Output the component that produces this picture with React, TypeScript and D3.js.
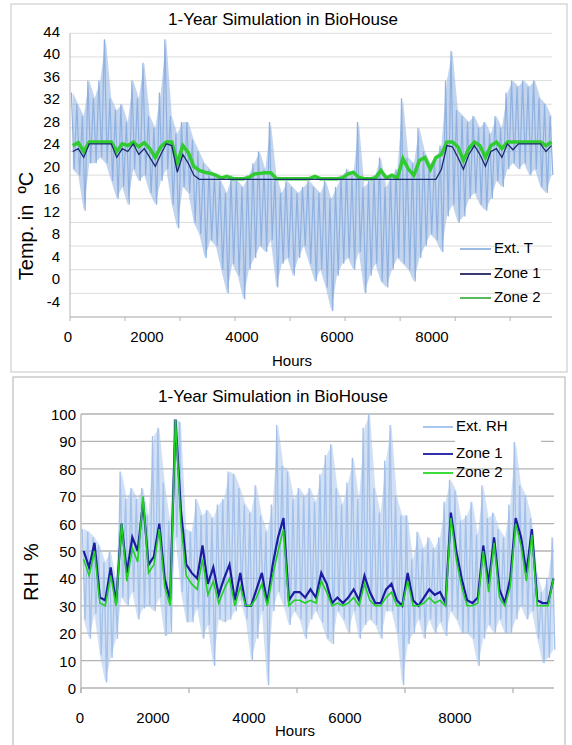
import React from 'react';
import * as d3 from 'd3';

// 100-hour bins over the year (88 bins)
const extTHi = [34, 32, 30, 36, 33, 36, 43, 33, 31, 32, 29, 36, 33, 39, 30, 28, 34, 43, 30, 27, 29, 29,
  26, 24, 22, 21, 20, 19, 17, 20, 19, 18, 20, 22, 24, 21, 29, 20, 17, 19, 18, 17, 18, 19,
  18, 17, 19, 16, 18, 20, 21, 20, 29, 18, 19, 20, 23, 18, 20, 21, 33, 23, 22, 28, 24, 22,
  23, 25, 36, 41, 31, 30, 29, 30, 28, 29, 27, 30, 28, 34, 36, 35, 36, 35, 36, 33, 32, 30];
const extTLo = [21, 20, 14, 22, 22, 23, 22, 19, 16, 18, 15, 21, 19, 20, 17, 15, 19, 21, 15, 11, 18, 17,
  12, 10, 6, 9, 8, 4, 0, 5, 3, -1, 4, 6, 8, 7, 9, 1, 5, 6, 3, 6, 8, 5,
  2, 4, 1, -3, 3, 5, 6, 4, 7, 0, 3, 5, 2, 1, 4, 6, 5, 4, 2, 6, 8, 10,
  9, 7, 13, 15, 12, 13, 16, 17, 15, 14, 16, 19, 18, 21, 22, 21, 22, 20, 21, 18, 17, 20];
const zone1T = [24, 24.5, 23, 25.3, 25.3, 25.3, 25.3, 25.3, 23, 24.5, 24, 25.3, 23.5, 24.5, 23, 21.5, 23.5, 25.3, 25, 20.5, 23.5, 22,
  20, 19.3, 19.3, 19.3, 19.3, 19.3, 19.3, 19.3, 19.3, 19.3, 19.3, 19.3, 19.3, 19.3, 19.3, 19.3, 19.3, 19.3, 19.3, 19.3, 19.3, 19.3,
  19.3, 19.3, 19.3, 19.3, 19.3, 19.3, 19.3, 19.3, 19.3, 19.3, 19.3, 19.3, 19.3, 19.3, 19.3, 19.3, 19.3, 19.3, 19.3, 19.3, 19.3, 19.3,
  19.3, 21, 25, 24.8, 23, 21, 23.5, 25, 23.5, 21.5, 24, 24.5, 23, 25.3, 24.3, 25.3, 25.3, 25.3, 25.3, 25.3, 24, 25];
const zone2T = [25, 25.5, 24, 25.6, 25.6, 25.6, 25.6, 25.6, 24, 25.3, 25, 25.6, 24.8, 25.5, 24.5, 23, 24.8, 25.6, 25.6, 22, 25, 23.8,
  21.5, 20.8, 20.5, 20.3, 20, 19.5, 19.8, 19.4, 19.4, 19.4, 19.6, 20.2, 20.3, 20.4, 20.4, 19.4, 19.4, 19.4, 19.4, 19.4, 19.4, 19.4,
  19.8, 19.4, 19.4, 19.4, 19.4, 19.5, 20.2, 20.5, 19.6, 19.4, 19.4, 19.5, 20.8, 19.5, 20, 19.5, 22.8, 21, 20, 22.5, 23, 21,
  23, 23.5, 25.6, 25.6, 24.8, 22.5, 24.5, 25.6, 25, 23, 25, 25.6, 24.5, 25.6, 25.6, 25.6, 25.6, 25.6, 25.6, 25.6, 25, 25.6];

const extRHHi = [58, 57, 55, 52, 46, 50, 40, 79, 69, 73, 69, 73, 63, 92, 95, 75, 61, 98, 97, 58, 57, 69,
  63, 65, 62, 67, 69, 79, 78, 73, 67, 64, 74, 63, 57, 67, 96, 81, 79, 69, 73, 70, 73, 68,
  78, 85, 89, 73, 67, 75, 84, 69, 95, 100, 73, 64, 83, 96, 70, 63, 63, 47, 57, 51, 55, 51,
  55, 68, 76, 72, 61, 63, 68, 56, 74, 62, 64, 58, 55, 67, 90, 74, 70, 62, 42, 35, 40, 55];
const extRHLo = [25, 18, 27, 12, 2, 11, 18, 33, 30, 35, 25, 29, 30, 28, 33, 19, 20, 55, 35, 24, 24, 29,
  18, 23, 8, 25, 24, 25, 28, 32, 25, 10, 18, 28, 1, 28, 35, 30, 23, 28, 25, 18, 25, 28,
  24, 18, 16, 28, 25, 20, 28, 18, 23, 25, 23, 18, 28, 28, 20, 1, 16, 20, 25, 18, 25, 20,
  24, 19, 28, 25, 20, 20, 18, 8, 18, 23, 20, 25, 20, 20, 25, 30, 25, 28, 18, 9, 11, 14];
const zone1RH = [50, 44, 53, 33, 32, 44, 31, 60, 42, 55, 50, 68, 45, 48, 60, 40, 32, 98, 65, 45, 42, 40,
  52, 38, 44, 34, 40, 45, 32, 42, 30, 30, 36, 42, 31, 45, 55, 62, 32, 35, 35, 33, 36, 33,
  42, 38, 31, 33, 31, 33, 36, 32, 41, 35, 31, 31, 36, 38, 32, 30, 42, 32, 30, 33, 36, 34,
  35, 31, 64, 50, 40, 32, 31, 33, 52, 38, 55, 36, 31, 40, 62, 55, 42, 58, 32, 31, 31, 40];
const zone2RH = [47, 41, 50, 31, 30, 41, 30, 60, 39, 51, 46, 70, 42, 45, 58, 37, 30, 98, 60, 41, 38, 36,
  47, 34, 39, 31, 36, 40, 30, 37, 30, 30, 33, 38, 30, 41, 50, 58, 30, 32, 32, 31, 32, 31,
  39, 35, 30, 31, 30, 31, 33, 30, 38, 32, 30, 30, 33, 35, 30, 30, 39, 30, 30, 31, 33, 31,
  32, 30, 62, 47, 37, 30, 30, 31, 50, 35, 53, 33, 30, 37, 60, 52, 39, 56, 30, 30, 30, 40];

const tempTicks = [-4, 0, 4, 8, 12, 16, 20, 24, 28, 32, 36, 40, 44];
const rhTicks = [0, 10, 20, 30, 40, 50, 60, 70, 80, 90, 100];
const hourLabels = [0, 2000, 4000, 6000, 8000];
const topHourTicks = [0, 1000, 2000, 3000, 4000, 5000, 6000, 7000, 8000];
const botHourTicks = [0, 2000, 4000, 6000, 8000];

const BIN = 100;
const font = 'Liberation Sans, Arial, sans-serif';

// zigzag through bin max / min values
function zigzag(hi: number[], lo: number[]): [number, number][] {
  const pts: [number, number][] = [];
  hi.forEach((h, i) => {
    pts.push([i * BIN + 25, h]);
    pts.push([i * BIN + 75, lo[i]]);
  });
  return pts;
}
function series(vals: number[]): [number, number][] {
  return vals.map((v, i) => [i * BIN + 50, v]);
}
function band(hi: number[], lo: number[]): [number, number, number][] {
  return hi.map((h, i) => [i * BIN + 50, lo[i], h]);
}

function TempChart() {
  const x = d3.scaleLinear().domain([0, 8760]).range([70, 552]);
  const y = d3.scaleLinear().domain([-4, 44]).range([317, 33.3]);
  const yLab = d3.scaleLinear().domain([-4, 44]).range([303, 33]);
  const xLab = d3.scaleLinear().domain([0, 2000, 8000]).range([68, 147, 432]);
  const line = d3.line<[number, number]>().x(d => x(d[0])).y(d => y(d[1]));
  const area = d3.area<[number, number, number]>().x(d => x(d[0])).y0(d => y(d[1])).y1(d => y(d[2]));
  const legend = [
    { name: 'Ext. T', color: '#9dbbe4', y: 249 },
    { name: 'Zone 1', color: '#3a3a6e', y: 274 },
    { name: 'Zone 2', color: '#5cb85c', y: 298 },
  ];
  return (
    <g fontFamily={font}>
      <rect x={11} y={4} width={556} height={368} fill="#fff" stroke="#c4c4c4" />
      {tempTicks.map(t => (
        <line key={t} x1={70} x2={552} y1={y(t)} y2={y(t)} stroke="#dcdcdc" strokeWidth={1} />
      ))}
      <line x1={70} x2={70} y1={y(44)} y2={y(-4)} stroke="#b5b5b5" />
      <line x1={70} x2={552} y1={y(-4)} y2={y(-4)} stroke="#b5b5b5" />
      {topHourTicks.map(t => (
        <line key={t} x1={x(t)} x2={x(t)} y1={y(-4)} y2={y(-4) + 4} stroke="#b5b5b5" />
      ))}
      <path d={area(band(extTHi, extTLo)) || ''} fill="#8fb1e0" fillOpacity={0.55} />
      <path d={line(zigzag(extTHi, extTLo)) || ''} fill="none" stroke="#8fb1e0" strokeWidth={1.2} />
      <path d={line(series(zone2T)) || ''} fill="none" stroke="#2fcb2f" strokeWidth={3.5} />
      <path d={line(series(zone1T)) || ''} fill="none" stroke="#1b2a6e" strokeWidth={1.3} />
      <text x={283} y={21} fontSize={17} textAnchor="middle" dominantBaseline="middle">1-Year Simulation in BioHouse</text>
      {tempTicks.map(t => (
        <text key={t} x={60} y={yLab(t)} fontSize={15} textAnchor="end" dominantBaseline="middle">{t}</text>
      ))}
      {hourLabels.map(h => (
        <text key={h} x={xLab(h)} y={338} fontSize={15} textAnchor="middle" dominantBaseline="middle">{h}</text>
      ))}
      <text x={292} y={362} fontSize={15} textAnchor="middle" dominantBaseline="middle">Hours</text>
      <text transform="translate(28,226) rotate(-90)" fontSize={20} textAnchor="middle" dominantBaseline="middle" xmlSpace="preserve">Temp. in  ºC</text>
      {legend.map(l => (
        <g key={l.name}>
          <line x1={460} x2={491} y1={l.y} y2={l.y} stroke={l.color} strokeWidth={2} />
          <text x={494} y={l.y} fontSize={15} dominantBaseline="middle">{l.name}</text>
        </g>
      ))}
    </g>
  );
}

function RHChart() {
  const x = d3.scaleLinear().domain([0, 8760]).range([81, 554]);
  const y = d3.scaleLinear().domain([0, 100]).range([688, 414]);
  const xLab = d3.scaleLinear().domain([0, 2000, 6000, 8000]).range([80, 153, 345, 455]);
  const line = d3.line<[number, number]>().x(d => x(d[0])).y(d => y(d[1]));
  const area = d3.area<[number, number, number]>().x(d => x(d[0])).y0(d => y(d[1])).y1(d => y(d[2]));
  const legend = [
    { name: 'Ext. RH', color: '#a9c6ee', y: 427 },
    { name: 'Zone 1', color: '#3030b0', y: 454 },
    { name: 'Zone 2', color: '#3ddc3d', y: 473 },
  ];
  return (
    <g fontFamily={font}>
      <rect x={13} y={377} width={552} height={380} fill="#fff" stroke="#b0b0b0" />
      {rhTicks.map(t => (
        <line key={t} x1={81} x2={554} y1={y(t)} y2={y(t)} stroke="#b3b3b3" strokeWidth={1.3} />
      ))}
      <line x1={81} x2={81} y1={y(100)} y2={y(0) + 5} stroke="#b3b3b3" strokeWidth={1.3} />
      {botHourTicks.map(t => (
        <line key={t} x1={x(t)} x2={x(t)} y1={y(0)} y2={y(0) + 5} stroke="#b3b3b3" strokeWidth={1.3} />
      ))}
      <path d={area(band(extRHHi, extRHLo)) || ''} fill="#a3c1ea" fillOpacity={0.5} />
      <path d={line(zigzag(extRHHi, extRHLo)) || ''} fill="none" stroke="#a3c1ea" strokeWidth={1.3} />
      <path d={line(series(zone1RH)) || ''} fill="none" stroke="#1c1ca0" strokeWidth={2.2} />
      <path d={line(series(zone2RH)) || ''} fill="none" stroke="#22d022" strokeWidth={1.6} />
      <text x={273} y={398} fontSize={17} textAnchor="middle" dominantBaseline="middle">1-Year Simulation in BioHouse</text>
      {rhTicks.map(t => (
        <text key={t} x={76} y={y(t) + 2} fontSize={15} textAnchor="end" dominantBaseline="middle">{t}</text>
      ))}
      {hourLabels.map(h => (
        <text key={h} x={xLab(h)} y={719} fontSize={15} textAnchor="middle" dominantBaseline="middle">{h}</text>
      ))}
      <text x={295} y={732} fontSize={15} textAnchor="middle" dominantBaseline="middle">Hours</text>
      <text transform="translate(33,572) rotate(-90)" fontSize={20} textAnchor="middle" dominantBaseline="middle" xmlSpace="preserve">RH  %</text>
      <rect x={455} y={415} width={86} height={27} fill="#fff" />
      {legend.map(l => (
        <g key={l.name}>
          <line x1={423} x2={453} y1={l.y} y2={l.y} stroke={l.color} strokeWidth={2} />
          <text x={456} y={l.y} fontSize={15} dominantBaseline="middle">{l.name}</text>
        </g>
      ))}
    </g>
  );
}

export default function App() {
  return (
    <svg width={572} height={745} style={{ position: 'absolute', left: 0, top: 0, background: '#fff' }}>
      <TempChart />
      <RHChart />
    </svg>
  );
}
